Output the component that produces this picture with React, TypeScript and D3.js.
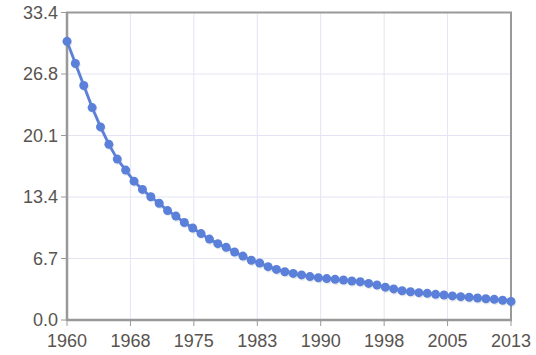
import React from "react";
import * as d3 from "d3";

// yearly values, 1960 → 2013
const years: number[] = d3.range(1960, 2014);
const values: number[] = [
  30.3, 27.9, 25.5, 23.1, 21.0, 19.1, 17.5, 16.3, 15.1, 14.2,
  13.4, 12.7, 11.9, 11.3, 10.6, 10.0, 9.4, 8.8, 8.3, 7.9,
  7.4, 6.95, 6.5, 6.2, 5.8, 5.5, 5.25, 5.07, 4.9, 4.72,
  4.6, 4.5, 4.42, 4.35, 4.24, 4.16, 3.98, 3.8, 3.57, 3.38,
  3.18, 3.07, 2.97, 2.9, 2.79, 2.72, 2.62, 2.54, 2.47, 2.39,
  2.31, 2.25, 2.15, 2.02,
];
const xTickLabels = ["1960", "1968", "1975", "1983", "1990", "1998", "2005", "2013"];
const yTickLabels = ["0.0", "6.7", "13.4", "20.1", "26.8", "33.4"];
const yMax = 33.44;

const W = 536;
const H = 355;
const plot = { left: 67, right: 511, top: 12.5, bottom: 320 };
const COLOR = "#5b80d9";
const FONT = "'Liberation Sans', Arial, sans-serif";

export default function App() {
  const x = d3.scaleLinear().domain([1960, 2013]).range([plot.left, plot.right]);
  const y = d3.scaleLinear().domain([0, yMax]).range([plot.bottom, plot.top]);

  const data = years.map((yr, i) => ({ yr, v: values[i] }));
  const xTicks = xTickLabels.map((lab, i) => ({ lab, v: 1960 + (i * 53) / 7 }));
  const yTicks = yTickLabels.map((lab, i) => ({ lab, v: (i * yMax) / 5 }));

  const line = d3
    .line<{ yr: number; v: number }>()
    .x((d) => x(d.yr))
    .y((d) => y(d.v));

  return (
    <div style={{ position: "absolute", left: 0, top: 0 }}>
      <svg width={W} height={H} style={{ display: "block", background: "#fff" }}>
        {/* grid */}
        {xTicks.map((t) => (
          <line
            key={"gx" + t.lab}
            x1={x(t.v)}
            x2={x(t.v)}
            y1={plot.top}
            y2={plot.bottom}
            stroke="#e4e4f4"
            strokeWidth={1}
          />
        ))}
        {yTicks.map((t) => (
          <line
            key={"gy" + t.lab}
            x1={plot.left}
            x2={plot.right}
            y1={y(t.v)}
            y2={y(t.v)}
            stroke="#e4e4f4"
            strokeWidth={1}
          />
        ))}

        {/* frame */}
        <rect
          x={plot.left}
          y={plot.top}
          width={plot.right - plot.left}
          height={plot.bottom - plot.top}
          fill="none"
          stroke="#999"
          strokeWidth={2}
        />
        <line x1={plot.left} x2={plot.left} y1={plot.top} y2={plot.bottom + 1} stroke="#999" strokeWidth={2.5} />
        <line x1={plot.left} x2={plot.right + 1} y1={plot.bottom} y2={plot.bottom} stroke="#999" strokeWidth={2.5} />

        {/* tick marks + labels */}
        {yTicks.map((t) => (
          <g key={"ty" + t.lab}>
            <line x1={plot.left - 6} x2={plot.left} y1={y(t.v)} y2={y(t.v)} stroke="#999" strokeWidth={1} />
            <text
              x={plot.left - 9}
              y={y(t.v)}
              dy="0.36em"
              textAnchor="end"
              fontFamily={FONT}
              fontSize={18}
              fill="#585450"
            >
              {t.lab}
            </text>
          </g>
        ))}
        {xTicks.map((t) => (
          <g key={"tx" + t.lab}>
            <line x1={x(t.v)} x2={x(t.v)} y1={plot.bottom} y2={plot.bottom + 6} stroke="#999" strokeWidth={1} />
            <text
              x={x(t.v)}
              y={347}
              textAnchor="middle"
              fontFamily={FONT}
              fontSize={18}
              fill="#585450"
            >
              {t.lab}
            </text>
          </g>
        ))}

        {/* shadow */}
        <g transform="translate(1,1.5)" opacity={0.08}>
          <path d={line(data) ?? ""} fill="none" stroke="#000" strokeWidth={3} />
          {data.map((d) => (
            <circle key={"s" + d.yr} cx={x(d.yr)} cy={y(d.v)} r={4.3} fill="#000" />
          ))}
        </g>

        {/* series */}
        <path d={line(data) ?? ""} fill="none" stroke={COLOR} strokeWidth={2.8} />
        {data.map((d) => (
          <circle key={d.yr} cx={x(d.yr)} cy={y(d.v)} r={4.5} fill={COLOR} />
        ))}
      </svg>
    </div>
  );
}
